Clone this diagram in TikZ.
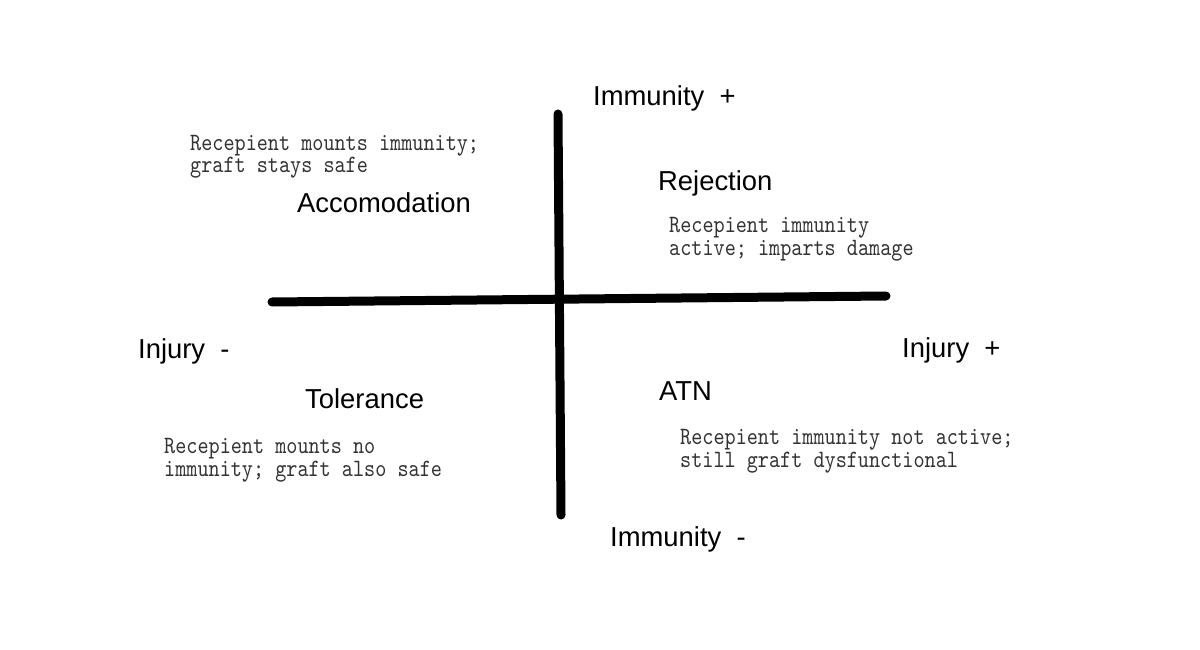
\documentclass[tikz,border=0pt]{standalone}
\usepackage{fontspec}
\setmainfont{Liberation Sans}
\newfontfamily\monof[FakeStretch=0.85]{lmmono10-regular.otf}
\begin{document}
\begin{tikzpicture}[x=1pt,y=-1pt,
  lab/.style={anchor=base west, inner sep=0pt, font=\fontsize{27.4}{32}\selectfont},
  desc/.style={anchor=base west, inner sep=0pt, align=left, font=\monof\fontsize{24.9}{22.5}\selectfont, text=black!80},
  axisline/.style={line width=9pt, line cap=round}]
\fill[white] (0,0) rectangle (1200,650);
\useasboundingbox (0,0) rectangle (1200,650);
% axes
\coordinate (vt) at (558,114);
\coordinate (vb) at (561,515);
\coordinate (hl) at (272,302);
\coordinate (hr) at (886,296);
\draw[axisline] (vt) -- (vb);
\draw[axisline] (hl) -- (hr);
% axis labels
\node[lab] (immp) at (593,106) {Immunity~~+};
\node[lab] (immm) at (610,546) {Immunity~~-};
\node[lab] (injm) at (138,358) {Injury~~-};
\node[lab] (injp) at (902,357) {Injury~~+};
% quadrant titles
\node[lab] (acc) at (297,212) {Accomodation};
\node[lab] (rej) at (658,190) {Rejection};
\node[lab] (tol) at (305,408) {Tolerance};
\node[lab] (atn) at (659,400) {ATN};
% descriptions (anchor = baseline of last line)
\node[desc] (dacc) at (190,173) {Recepient mounts immunity;\\graft stays safe};
\node[desc] (drej) at (669,255) {Recepient immunity\\active; imparts damage};
\node[desc] (dtol) at (164,476) {Recepient mounts no\\immunity; graft also safe};
\node[desc] (datn) at (680,467) {Recepient immunity not active;\\still graft dysfunctional};
\end{tikzpicture}
\end{document}
